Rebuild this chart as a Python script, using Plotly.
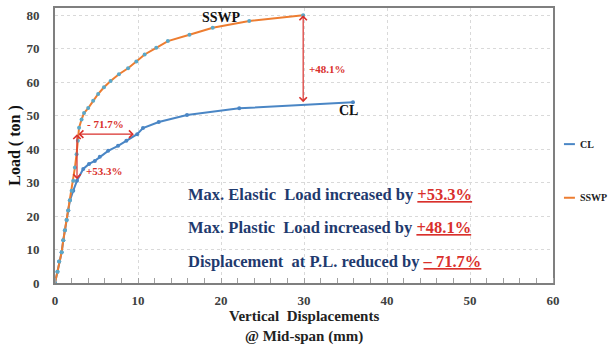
import plotly.graph_objects as go

# ---- data ----
cl_x = [0, 0.3, 0.5, 0.8, 1.0, 1.2, 1.4, 1.6, 1.8, 2.2, 2.65, 3.4, 4.1, 4.8, 5.4, 6.4, 7.6, 8.6, 9.9, 10.6, 12.5, 15.9, 22.2, 35.9]
cl_y = [0, 3.4, 6.4, 9.2, 12.8, 15.8, 18.8, 21.7, 24.7, 27.6, 30.6, 34.1, 35.6, 36.5, 37.7, 39.5, 41.0, 42.5, 44.5, 46.3, 48.1, 50.2, 52.2, 54.0]
sswp_x = [0, 0.3, 0.5, 0.8, 1.0, 1.2, 1.4, 1.6, 1.8, 2.0, 2.2, 2.4, 2.6, 2.75, 2.9, 3.2, 3.5, 4.0, 4.6, 5.2, 5.9, 6.7, 7.7, 8.8, 9.8, 10.8, 12.2, 13.6, 16.2, 19.0, 23.4, 29.9]
sswp_y = [0, 3.4, 6.4, 9.2, 12.8, 15.8, 18.8, 21.7, 24.7, 27.6, 30.6, 34.5, 38.5, 42.5, 46.4, 48.9, 50.8, 52.3, 54.5, 56.5, 58.5, 60.4, 62.4, 64.2, 66.2, 68.3, 70.3, 72.3, 74.2, 76.3, 78.3, 80.0]
series_names = ["CL", "SSWP"]
x_ticks = [0, 10, 20, 30, 40, 50, 60]
y_ticks = [0, 10, 20, 30, 40, 50, 60, 70, 80]

# key points for annotations
cl_elastic = (2.65, 30.6)
sswp_elastic_y = 44.5
cl_disp_at_pl = 9.5
plastic_x = 29.9
sswp_plastic = 80.0
cl_at_plastic = 53.6

SERIF = "Liberation Serif, Times New Roman, serif"
BLUE = "#4A86C5"
ORANGE = "#ED7D31"
MARK = "#5BA8C8"
RED = "#D9302C"
NAVY = "#1F3A6E"

fig = go.Figure()
fig.add_trace(go.Scatter(x=cl_x, y=cl_y, mode="lines+markers", name=series_names[0],
                         line=dict(color=BLUE, width=2),
                         marker=dict(color=BLUE, size=4)))
fig.add_trace(go.Scatter(x=sswp_x, y=sswp_y, mode="lines+markers", name=series_names[1],
                         line=dict(color=ORANGE, width=2),
                         marker=dict(color=MARK, size=4)))

ann = []
# series labels
ann.append(dict(x=20, y=79.5, text="<b>SSWP</b>", showarrow=False,
                font=dict(family=SERIF, size=14, color="#111")))
ann.append(dict(x=35.4, y=51.5, text="<b>CL</b>", showarrow=False,
                font=dict(family=SERIF, size=14, color="#111")))

# red arrows
def dbl_arrow(x0, y0, x1, y1):
    return dict(x=x1, y=y1, ax=x0, ay=y0, xref="x", yref="y", axref="x", ayref="y",
                text="", showarrow=True, arrowhead=4, startarrowhead=4,
                arrowside="end+start", arrowwidth=1.2, arrowsize=1.2, startarrowsize=1.2,
                arrowcolor=RED)

ann.append(dbl_arrow(plastic_x, cl_at_plastic, plastic_x, sswp_plastic))
ann.append(dbl_arrow(cl_elastic[0], cl_elastic[1], cl_elastic[0], sswp_elastic_y))
ann.append(dbl_arrow(cl_elastic[0], sswp_elastic_y, cl_disp_at_pl, sswp_elastic_y))
ann.append(dict(x=32.8, y=64.1, text="<b>+48.1%</b>", showarrow=False,
                font=dict(family=SERIF, size=11, color=RED)))
ann.append(dict(x=6.1, y=47.6, text="<b>- 71.7%</b>", showarrow=False,
                font=dict(family=SERIF, size=11, color=RED)))
ann.append(dict(x=6.0, y=33.6, text="<b>+53.3%</b>", showarrow=False,
                font=dict(family=SERIF, size=11, color=RED)))

# summary text
lines = [("Max. Elastic  Load increased by ", "+53.3%", 26.5),
         ("Max. Plastic  Load increased by ", "+48.1%", 16.5),
         ("Displacement  at P.L. reduced by ", "\u2013 71.7%", 6.5)]
for t, p, yy in lines:
    ann.append(dict(x=15.8, y=yy, xanchor="left", showarrow=False,
                    text=f"<b><span style='color:{NAVY}'>{t}</span><span style='color:{RED}'><u>{p}</u></span></b>",
                    font=dict(family=SERIF, size=16.5, color=NAVY)))

# x-axis title
ann.append(dict(x=0.5, y=-0.082, xref="paper", yref="paper", yanchor="top", showarrow=False,
                text="<b>Vertical  Displacements<br>@ Mid-span (mm)</b>",
                font=dict(family=SERIF, size=15, color="#222")))

# manual legend
leg = [(series_names[0], BLUE, 0.505), (series_names[1], ORANGE, 0.31)]
shapes = []
for name, col, yy in leg:
    shapes.append(dict(type="line", xref="paper", yref="paper",
                       x0=1.022, x1=1.044, y0=yy, y1=yy, line=dict(color=col, width=2)))
    ann.append(dict(x=1.05, y=yy, xref="paper", yref="paper", xanchor="left", yanchor="middle",
                    showarrow=False,
                    text=f"<b>{name}</b>", font=dict(family=SERIF, size=10, color="#222")))

fig.update_layout(
    width=611, height=345,
    margin=dict(l=55, r=58, t=6, b=62),
    paper_bgcolor="white", plot_bgcolor="white",
    showlegend=False,
    annotations=ann, shapes=shapes,
    font=dict(family=SERIF),
)
fig.update_xaxes(range=[0, 60], tickvals=x_ticks, ticktext=[f"<b>{v}</b>" for v in x_ticks],
                 showgrid=True, gridcolor="#D9D9D9",
                 griddash="dot", gridwidth=1, zeroline=False,
                 showline=True, linecolor="#7F7F7F", linewidth=2, mirror=True,
                 ticks="", tickfont=dict(family=SERIF, size=13, color="#404040"),
                 ticklabelstandoff=4,
                 minor=dict(dtick=2, ticks="inside", ticklen=5, tickcolor="#A0A0A0", showgrid=False))
fig.update_yaxes(range=[0, 82.2], tickvals=y_ticks, ticktext=[f"<b>{v}</b>" for v in y_ticks],
                 showgrid=True, gridcolor="#D9D9D9",
                 griddash="dot", gridwidth=1, zeroline=False,
                 showline=True, linecolor="#7F7F7F", linewidth=2, mirror=True,
                 ticks="", tickfont=dict(family=SERIF, size=13, color="#404040"),
                 ticklabelstandoff=11,
                 title=dict(text="<b>Load ( ton )</b>", font=dict(family=SERIF, size=16, color="#111"),
                            standoff=2))

fig.write_html("out.html")
